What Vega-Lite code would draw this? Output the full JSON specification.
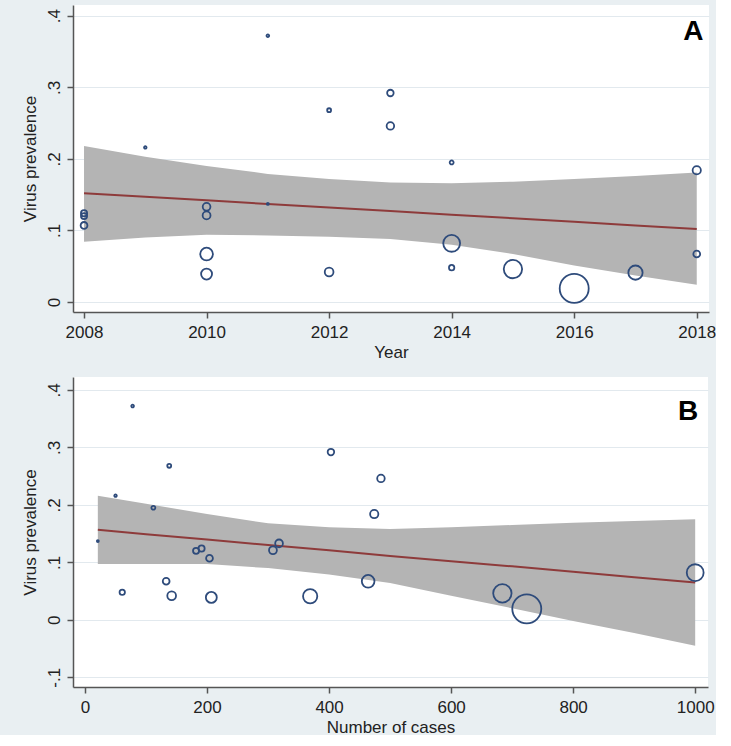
{
  "$schema": "https://vega.github.io/schema/vega-lite/v6.json",
  "background": "#e9eff2",
  "padding": {"left": 20, "top": 5, "right": 0, "bottom": 0},
  "spacing": 17,
  "config": {
    "view": {"fill": "white", "stroke": null},
    "axis": {
      "labelFont": "Liberation Sans", "titleFont": "Liberation Sans",
      "labelFontSize": 17, "titleFontSize": 17,
      "labelColor": "#222222", "titleColor": "#222222", "titleFontWeight": "normal",
      "domainColor": "#555555", "tickColor": "#555555", "domainWidth": 1.5, "tickWidth": 1.5, "tickSize": 6
    }
  },
  "datasets": {
    "pts": [
      {"year": 2008, "cases": 182, "prev": 0.120, "w": 1723},
      {"year": 2008, "cases": 191, "prev": 0.124, "w": 1758},
      {"year": 2008, "cases": 204, "prev": 0.107, "w": 2135},
      {"year": 2009, "cases": 50, "prev": 0.216, "w": 295},
      {"year": 2010, "cases": 318, "prev": 0.133, "w": 2758},
      {"year": 2010, "cases": 308, "prev": 0.121, "w": 2875},
      {"year": 2010, "cases": 464, "prev": 0.067, "w": 7423},
      {"year": 2010, "cases": 207, "prev": 0.039, "w": 5523},
      {"year": 2011, "cases": 78, "prev": 0.372, "w": 334},
      {"year": 2011, "cases": 21, "prev": 0.137, "w": 178},
      {"year": 2012, "cases": 138, "prev": 0.268, "w": 703},
      {"year": 2012, "cases": 142, "prev": 0.042, "w": 3529},
      {"year": 2013, "cases": 403, "prev": 0.292, "w": 1949},
      {"year": 2013, "cases": 485, "prev": 0.246, "w": 2615},
      {"year": 2014, "cases": 112, "prev": 0.195, "w": 713},
      {"year": 2014, "cases": 1000, "prev": 0.082, "w": 13138},
      {"year": 2014, "cases": 61, "prev": 0.048, "w": 1322},
      {"year": 2015, "cases": 684, "prev": 0.046, "w": 15587},
      {"year": 2016, "cases": 724, "prev": 0.019, "w": 38840},
      {"year": 2017, "cases": 369, "prev": 0.041, "w": 9385},
      {"year": 2018, "cases": 474, "prev": 0.184, "w": 3157},
      {"year": 2018, "cases": 133, "prev": 0.067, "w": 2128}
    ],
    "bandA": [
      {"year": 2008, "fit": 0.152, "lo": 0.084, "hi": 0.218},
      {"year": 2009, "fit": 0.147, "lo": 0.090, "hi": 0.203},
      {"year": 2010, "fit": 0.142, "lo": 0.094, "hi": 0.190},
      {"year": 2011, "fit": 0.137, "lo": 0.093, "hi": 0.179},
      {"year": 2012, "fit": 0.132, "lo": 0.091, "hi": 0.172},
      {"year": 2013, "fit": 0.127, "lo": 0.088, "hi": 0.167},
      {"year": 2014, "fit": 0.122, "lo": 0.080, "hi": 0.166},
      {"year": 2015, "fit": 0.117, "lo": 0.067, "hi": 0.168},
      {"year": 2016, "fit": 0.112, "lo": 0.051, "hi": 0.172},
      {"year": 2017, "fit": 0.107, "lo": 0.037, "hi": 0.176},
      {"year": 2018, "fit": 0.102, "lo": 0.024, "hi": 0.181}
    ],
    "bandB": [
      {"cases": 21, "fit": 0.1566, "lo": 0.097, "hi": 0.216},
      {"cases": 100, "fit": 0.149, "lo": 0.097, "hi": 0.202},
      {"cases": 200, "fit": 0.1398, "lo": 0.097, "hi": 0.184},
      {"cases": 300, "fit": 0.130, "lo": 0.090, "hi": 0.168},
      {"cases": 400, "fit": 0.121, "lo": 0.079, "hi": 0.161},
      {"cases": 500, "fit": 0.111, "lo": 0.064, "hi": 0.158},
      {"cases": 600, "fit": 0.102, "lo": 0.042, "hi": 0.161},
      {"cases": 700, "fit": 0.093, "lo": 0.020, "hi": 0.165},
      {"cases": 800, "fit": 0.0835, "lo": -0.002, "hi": 0.169},
      {"cases": 900, "fit": 0.074, "lo": -0.023, "hi": 0.172},
      {"cases": 1000, "fit": 0.065, "lo": -0.045, "hi": 0.175}
    ],
    "labels": [
      {"panel": "A", "x": 2018.11, "y": 0.366},
      {"panel": "B", "x": 1005, "y": 0.348}
    ]
  },
  "vconcat": [
    {
      "width": 636, "height": 307,
      "layer": [
        {
          "data": {"name": "bandA"},
          "mark": {"type": "area", "color": "#b4b4b4", "opacity": 1},
          "encoding": {
            "x": {"field": "year", "type": "quantitative", "title": "Year",
                  "scale": {"domain": [2007.82, 2018.2], "nice": false, "zero": false},
                  "axis": {"values": [2008, 2010, 2012, 2014, 2016, 2018], "format": "d", "grid": false, "labelPadding": 6, "titlePadding": 4}},
            "y": {"field": "lo", "type": "quantitative", "title": "Virus prevalence",
                  "scale": {"domain": [-0.014, 0.415], "nice": false, "zero": false},
                  "axis": {"values": [0, 0.1, 0.2, 0.3, 0.4], "grid": true, "gridColor": "#e2e9ee", "gridWidth": 1,
                           "labelAngle": 270, "labelAlign": "center", "labelBaseline": "bottom", "labelPadding": 4, "titlePadding": 6,
                           "labelExpr": "datum.value == 0 ? '0' : (datum.value < 0 ? '-' : '') + substring(format(abs(datum.value), '.1f'), 1)"}},
            "y2": {"field": "hi"}
          }
        },
        {
          "data": {"name": "bandA"},
          "mark": {"type": "line", "color": "#8e3b3b", "strokeWidth": 2},
          "encoding": {
            "x": {"field": "year", "type": "quantitative", "title": "Year"},
            "y": {"field": "fit", "type": "quantitative", "title": "Virus prevalence"}
          }
        },
        {
          "data": {"name": "pts"},
          "mark": {"type": "point", "shape": "circle", "filled": false, "color": "#2e4b7b", "strokeWidth": 1.8, "opacity": 1},
          "encoding": {
            "x": {"field": "year", "type": "quantitative", "title": "Year"},
            "y": {"field": "prev", "type": "quantitative", "title": "Virus prevalence"},
            "size": {"field": "w", "type": "quantitative", "scale": {"domain": [0, 38840], "range": [0, 841]}, "legend": null}
          }
        },
        {
          "data": {"name": "labels"},
          "transform": [{"filter": "datum.panel == 'A'"}],
          "mark": {"type": "text", "font": "Liberation Sans", "fontSize": 28, "fontWeight": "bold", "align": "right", "baseline": "alphabetic", "color": "black"},
          "encoding": {
            "text": {"field": "panel"},
            "x": {"field": "x", "type": "quantitative", "title": "Year"},
            "y": {"field": "y", "type": "quantitative", "title": "Virus prevalence"}
          }
        }
      ]
    },
    {
      "width": 635, "height": 310,
      "layer": [
        {
          "data": {"name": "bandB"},
          "mark": {"type": "area", "color": "#b4b4b4", "opacity": 1},
          "encoding": {
            "x": {"field": "cases", "type": "quantitative", "title": "Number of cases",
                  "scale": {"domain": [-19.7, 1021], "nice": false, "zero": false},
                  "axis": {"values": [0, 200, 400, 600, 800, 1000], "format": "d", "grid": false, "labelPadding": 6, "titlePadding": 4}},
            "y": {"field": "lo", "type": "quantitative", "title": "Virus prevalence",
                  "scale": {"domain": [-0.117, 0.4226], "nice": false, "zero": false},
                  "axis": {"values": [-0.1, 0, 0.1, 0.2, 0.3, 0.4], "grid": true, "gridColor": "#e2e9ee", "gridWidth": 1,
                           "labelAngle": 270, "labelAlign": "center", "labelBaseline": "bottom", "labelPadding": 4, "titlePadding": 6,
                           "labelExpr": "datum.value == 0 ? '0' : (datum.value < 0 ? '-' : '') + substring(format(abs(datum.value), '.1f'), 1)"}},
            "y2": {"field": "hi"}
          }
        },
        {
          "data": {"name": "bandB"},
          "mark": {"type": "line", "color": "#8e3b3b", "strokeWidth": 2},
          "encoding": {
            "x": {"field": "cases", "type": "quantitative", "title": "Number of cases"},
            "y": {"field": "fit", "type": "quantitative", "title": "Virus prevalence"}
          }
        },
        {
          "data": {"name": "pts"},
          "mark": {"type": "point", "shape": "circle", "filled": false, "color": "#2e4b7b", "strokeWidth": 1.8, "opacity": 1},
          "encoding": {
            "x": {"field": "cases", "type": "quantitative", "title": "Number of cases"},
            "y": {"field": "prev", "type": "quantitative", "title": "Virus prevalence"},
            "size": {"field": "w", "type": "quantitative", "scale": {"domain": [0, 38840], "range": [0, 841]}, "legend": null}
          }
        },
        {
          "data": {"name": "labels"},
          "transform": [{"filter": "datum.panel == 'B'"}],
          "mark": {"type": "text", "font": "Liberation Sans", "fontSize": 28, "fontWeight": "bold", "align": "right", "baseline": "alphabetic", "color": "black"},
          "encoding": {
            "text": {"field": "panel"},
            "x": {"field": "x", "type": "quantitative", "title": "Number of cases"},
            "y": {"field": "y", "type": "quantitative", "title": "Virus prevalence"}
          }
        }
      ]
    }
  ]
}
